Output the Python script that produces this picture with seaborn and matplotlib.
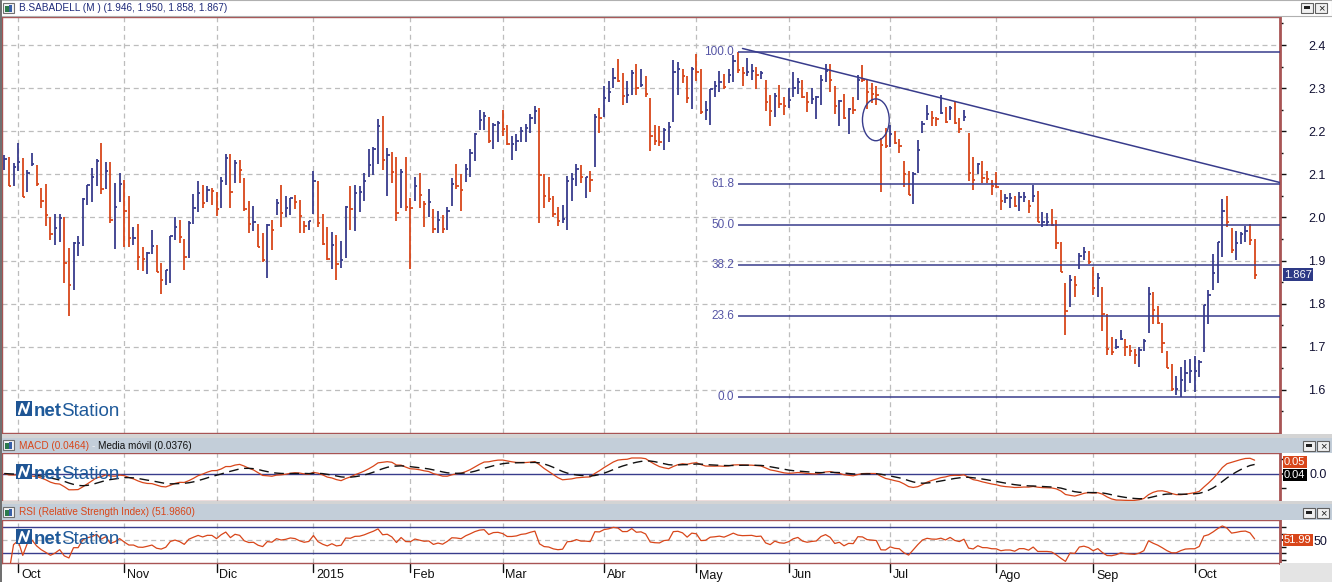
import numpy as np
import pandas as pd
import matplotlib
matplotlib.use("Agg")
import matplotlib.pyplot as plt
import seaborn as sns
from matplotlib.patches import Rectangle, Ellipse

# daily bars B.SABADELL (high, low, close)
highs = [2.145, 2.141, 2.127, 2.172, 2.139, 2.110, 2.150, 2.122, 2.069, 2.078,
         2.002, 2.008, 2.008, 2.001, 1.930, 1.944, 1.957, 2.045, 2.076, 2.115,
         2.136, 2.173, 2.129, 2.129, 2.081, 2.103, 2.088, 2.050, 1.978, 1.985,
         1.932, 1.919, 1.971, 1.937, 1.895, 1.879, 1.957, 2.001, 1.995, 1.951,
         1.992, 2.055, 2.084, 2.076, 2.072, 2.069, 2.058, 2.095, 2.148, 2.148,
         2.134, 2.134, 2.092, 2.039, 2.027, 1.985, 1.964, 1.985, 1.995, 2.043,
         2.076, 2.050, 2.046, 2.053, 2.041, 1.992, 1.992, 2.108, 2.085, 2.008,
         1.978, 1.967, 1.959, 1.946, 2.027, 2.073, 2.076, 2.073, 2.103, 2.159,
         2.164, 2.229, 2.235, 2.162, 2.152, 2.141, 2.113, 2.141, 2.046, 2.094,
         2.103, 2.039, 2.067, 2.020, 2.015, 2.006, 2.024, 2.092, 2.123, 2.101,
         2.124, 2.159, 2.196, 2.249, 2.245, 2.233, 2.218, 2.224, 2.249, 2.215,
         2.189, 2.194, 2.210, 2.217, 2.240, 2.259, 2.254, 2.100, 2.094, 2.050,
         2.024, 2.028, 2.096, 2.103, 2.124, 2.122, 2.095, 2.108, 2.239, 2.255,
         2.304, 2.316, 2.347, 2.368, 2.336, 2.317, 2.342, 2.357, 2.344, 2.328,
         2.277, 2.215, 2.212, 2.207, 2.222, 2.365, 2.361, 2.345, 2.328, 2.348,
         2.380, 2.345, 2.269, 2.298, 2.317, 2.340, 2.333, 2.345, 2.378, 2.384,
         2.350, 2.371, 2.357, 2.349, 2.340, 2.318, 2.284, 2.288, 2.307, 2.280,
         2.300, 2.337, 2.323, 2.319, 2.291, 2.300, 2.282, 2.331, 2.357, 2.357,
         2.306, 2.273, 2.287, 2.254, 2.280, 2.331, 2.353, 2.319, 2.312, 2.306,
         2.184, 2.207, 2.215, 2.201, 2.182, 2.131, 2.108, 2.105, 2.180, 2.224,
         2.261, 2.247, 2.234, 2.284, 2.257, 2.259, 2.269, 2.231, 2.249, 2.195,
         2.141, 2.126, 2.131, 2.108, 2.087, 2.105, 2.064, 2.055, 2.057, 2.050,
         2.059, 2.060, 2.041, 2.076, 2.062, 2.013, 2.011, 2.020, 1.994, 1.944,
         1.849, 1.866, 1.865, 1.918, 1.932, 1.923, 1.886, 1.870, 1.838, 1.776,
         1.722, 1.719, 1.740, 1.719, 1.703, 1.696, 1.700, 1.719, 1.838, 1.826,
         1.795, 1.756, 1.691, 1.661, 1.632, 1.654, 1.670, 1.672, 1.679, 1.670,
         1.798, 1.831, 1.916, 1.944, 2.042, 2.049, 1.975, 1.969, 1.967, 1.980,
         1.984, 1.950]
lows = [2.109, 2.074, 2.074, 2.107, 2.047, 2.060, 2.120, 2.072, 2.021, 1.981,
        1.947, 1.935, 1.944, 1.849, 1.771, 1.831, 1.910, 1.933, 2.029, 2.037,
        2.074, 2.054, 2.067, 1.987, 1.926, 2.036, 1.931, 1.931, 1.935, 1.877,
        1.875, 1.868, 1.916, 1.873, 1.822, 1.844, 1.849, 1.948, 1.940, 1.877,
        1.905, 1.984, 2.012, 2.021, 2.037, 2.030, 2.004, 2.022, 2.076, 2.021,
        2.079, 2.080, 2.014, 1.964, 1.968, 1.931, 1.896, 1.859, 1.924, 2.005,
        1.977, 2.000, 2.005, 2.019, 1.963, 1.965, 1.970, 2.009, 1.978, 1.937,
        1.902, 1.880, 1.856, 1.882, 1.907, 1.972, 1.968, 2.012, 2.039, 2.095,
        2.098, 2.125, 2.111, 2.049, 2.079, 1.992, 2.021, 2.016, 1.880, 2.039,
        2.021, 1.979, 2.000, 1.963, 1.963, 1.963, 1.970, 2.027, 2.065, 2.016,
        2.083, 2.093, 2.132, 2.202, 2.202, 2.173, 2.158, 2.175, 2.190, 2.167,
        2.134, 2.155, 2.174, 2.176, 2.197, 2.216, 1.986, 2.021, 2.037, 2.002,
        1.980, 1.987, 1.972, 2.039, 2.074, 2.081, 2.044, 2.058, 2.117, 2.195,
        2.234, 2.267, 2.301, 2.314, 2.262, 2.265, 2.285, 2.283, 2.302, 2.280,
        2.155, 2.167, 2.165, 2.156, 2.175, 2.222, 2.284, 2.313, 2.266, 2.252,
        2.317, 2.239, 2.226, 2.215, 2.280, 2.290, 2.299, 2.311, 2.315, 2.336,
        2.306, 2.327, 2.319, 2.298, 2.321, 2.247, 2.212, 2.233, 2.253, 2.238,
        2.254, 2.280, 2.286, 2.276, 2.245, 2.263, 2.229, 2.262, 2.315, 2.291,
        2.241, 2.212, 2.229, 2.194, 2.240, 2.273, 2.315, 2.252, 2.266, 2.261,
        2.059, 2.162, 2.163, 2.171, 2.150, 2.071, 2.051, 2.032, 2.104, 2.195,
        2.226, 2.211, 2.212, 2.241, 2.220, 2.226, 2.217, 2.197, 2.224, 2.085,
        2.064, 2.101, 2.080, 2.080, 2.052, 2.068, 2.018, 2.033, 2.021, 2.025,
        2.014, 2.037, 2.010, 2.037, 1.990, 1.979, 1.980, 1.980, 1.926, 1.873,
        1.727, 1.792, 1.815, 1.880, 1.902, 1.891, 1.821, 1.815, 1.737, 1.682,
        1.682, 1.694, 1.715, 1.679, 1.678, 1.661, 1.653, 1.690, 1.731, 1.753,
        1.752, 1.685, 1.651, 1.597, 1.587, 1.583, 1.595, 1.616, 1.595, 1.630,
        1.687, 1.753, 1.831, 1.848, 1.908, 1.979, 1.917, 1.901, 1.938, 1.943,
        1.936, 1.858]
closes = [2.135, 2.074, 2.117, 2.128, 2.047, 2.103, 2.123, 2.078, 2.039, 2.005,
          1.961, 1.975, 1.998, 1.894, 1.843, 1.941, 1.941, 2.042, 2.075, 2.093,
          2.132, 2.066, 2.107, 1.995, 2.024, 2.078, 2.015, 1.953, 1.953, 1.908,
          1.904, 1.918, 1.934, 1.873, 1.855, 1.877, 1.957, 1.978, 1.954, 1.908,
          1.987, 2.022, 2.056, 2.034, 2.063, 2.062, 2.019, 2.085, 2.139, 2.059,
          2.127, 2.111, 2.019, 1.985, 1.989, 1.931, 1.902, 1.982, 1.971, 2.033,
          2.010, 2.022, 2.045, 2.036, 2.003, 1.980, 1.991, 2.084, 1.987, 1.938,
          1.903, 1.936, 1.892, 1.902, 2.024, 2.019, 2.056, 2.059, 2.084, 2.121,
          2.158, 2.212, 2.133, 2.144, 2.105, 2.010, 2.105, 2.025, 2.022, 2.073,
          2.052, 2.032, 2.037, 1.973, 1.994, 1.973, 2.015, 2.077, 2.073, 2.063,
          2.112, 2.149, 2.193, 2.225, 2.235, 2.177, 2.214, 2.219, 2.205, 2.170,
          2.170, 2.178, 2.200, 2.208, 2.230, 2.247, 2.098, 2.050, 2.042, 2.008,
          1.992, 1.997, 2.084, 2.089, 2.113, 2.093, 2.093, 2.087, 2.232, 2.230,
          2.276, 2.292, 2.323, 2.317, 2.282, 2.283, 2.336, 2.300, 2.307, 2.286,
          2.188, 2.178, 2.175, 2.203, 2.209, 2.337, 2.344, 2.327, 2.277, 2.345,
          2.337, 2.244, 2.249, 2.297, 2.304, 2.314, 2.302, 2.330, 2.363, 2.342,
          2.336, 2.338, 2.340, 2.330, 2.334, 2.268, 2.247, 2.281, 2.263, 2.258,
          2.272, 2.300, 2.314, 2.280, 2.268, 2.275, 2.279, 2.320, 2.340, 2.318,
          2.259, 2.270, 2.230, 2.252, 2.249, 2.320, 2.318, 2.292, 2.287, 2.283,
          2.168, 2.165, 2.193, 2.172, 2.165, 2.100, 2.053, 2.100, 2.156, 2.216,
          2.241, 2.231, 2.229, 2.242, 2.222, 2.253, 2.219, 2.205, 2.232, 2.103,
          2.087, 2.124, 2.091, 2.089, 2.072, 2.070, 2.039, 2.045, 2.045, 2.027,
          2.047, 2.047, 2.027, 2.050, 1.990, 1.990, 1.990, 1.983, 1.941, 1.873,
          1.782, 1.855, 1.843, 1.910, 1.920, 1.896, 1.837, 1.860, 1.777, 1.695,
          1.688, 1.699, 1.718, 1.699, 1.690, 1.682, 1.693, 1.714, 1.822, 1.786,
          1.755, 1.709, 1.651, 1.601, 1.601, 1.624, 1.640, 1.643, 1.643, 1.665,
          1.797, 1.819, 1.871, 1.944, 2.015, 1.990, 1.925, 1.941, 1.962, 1.969,
          1.948, 1.867]

month_labels = ["Oct", "Nov", "Dic", "2015", "Feb", "Mar", "Abr", "May",
                "Jun", "Jul", "Ago", "Sep", "Oct"]
month_starts = [3, 26, 46, 67, 88, 108, 130, 150, 170, 192, 215, 236, 258]
price_ticks = [1.6, 1.7, 1.8, 1.9, 2.0, 2.1, 2.2, 2.3, 2.4]
fib_levels = [0.0, 23.6, 38.2, 50.0, 61.8, 100.0]
trend_x = [160, 276.5]
trend_y = [2.392, 2.081]
circle_xy = (188.9, 2.2265)
circle_w, circle_h = 5.8, 0.097
title_txt = "B.SABADELL (M ) (1.946, 1.950, 1.858, 1.867)"
last_close_txt = "1.867"
macd_txt, signal_txt, rsi_txt = "0.05", "0.04", "51.99"

BLUE = "#383c8c"
RED = "#d8461a"
GRID = "#bdbdbd"
BORDER = "#a85454"
TXT = "#1e2a7a"

df = pd.DataFrame({"high": highs, "low": lows, "close": closes})
df["x"] = np.arange(len(df))
df["up"] = df["close"].diff().fillna(0) >= 0
df["color"] = np.where(df["up"], BLUE, RED)

# indicators
ema12 = df["close"].ewm(span=12, adjust=False).mean()
ema26 = df["close"].ewm(span=26, adjust=False).mean()
df["macd"] = ema12 - ema26
df["signal"] = df["macd"].ewm(span=9, adjust=False).mean()
delta = df["close"].diff().fillna(0)
gain = delta.clip(lower=0).ewm(alpha=1 / 14, adjust=False).mean()
loss = (-delta.clip(upper=0)).ewm(alpha=1 / 14, adjust=False).mean()
df["rsi"] = 100 - 100 / (1 + gain / loss.replace(0, np.nan))
df["rsi"] = df["rsi"].bfill()

sns.set_theme(style="white")
plt.rcParams["font.family"] = ["Liberation Sans", "DejaVu Sans"]

W, H = 1332, 582
fig = plt.figure(figsize=(W / 100, H / 100), dpi=100)
fig.patch.set_facecolor("white")


def box(x0, y0, x1, y1):
    return [x0 / W, 1 - y1 / H, (x1 - x0) / W, (y1 - y0) / H]


def fx(px):
    return px / W


def fy(py):
    return 1 - py / H


def frect(x0, y0, x1, y1, fc, ec="none", lw=0, z=0):
    fig.patches.append(Rectangle((fx(x0), fy(y1)), (x1 - x0) / W, (y1 - y0) / H,
                                 transform=fig.transFigure, facecolor=fc,
                                 edgecolor=ec, linewidth=lw, zorder=z))


# background pieces: header bars, separators
frect(0, 0, W, 16, "#ffffff", "#b0b0b0", 0.8)
frect(0, 434, W, 438, "#d4d4d4")
frect(0, 438, W, 453, "#c3ced9")
frect(0, 501, W, 504, "#d4d4d4")
frect(0, 504, W, 520, "#c3ced9")
frect(1280, 563, W, H, "#e4e4e4")
frect(0, 0, 2, H, "#707070")


def icon(x, y, z=5):
    frect(x, y, x + 11, y + 10, "#f4f4f4", "#707070", 0.8, z)
    frect(x + 2, y + 3, x + 6, y + 9, "#2b7a4b", z=z + 1)
    frect(x + 6, y + 2, x + 9, y + 9, "#3860a8", z=z + 1)


def buttons(x, y):
    frect(x, y, x + 12, y + 10, "#f0f0f0", "#606060", 0.8, 5)
    frect(x + 3, y + 3, x + 9, y + 6, "#202020", z=6)
    frect(x + 14, y, x + 26, y + 10, "#f0f0f0", "#606060", 0.8, 5)
    fig.text(fx(x + 20), fy(y + 5), "×", fontsize=8, ha="center", va="center",
             color="#202020", zorder=7)


renderer = fig.canvas.get_renderer()

icon(3, 3)
fig.text(fx(19), fy(8), title_txt, fontsize=7.2, color=TXT, va="center")
buttons(1301, 3)
icon(3, 440)
t = fig.text(fx(19), fy(446), "MACD (0.0464)", fontsize=7.2, color=RED, va="center")
x_end = t.get_window_extent(renderer).x1
t = fig.text((x_end + 3) / W, fy(446), "-", fontsize=7.2, color="#f4f4f4", va="center")
x_end = t.get_window_extent(renderer).x1
fig.text((x_end + 3) / W, fy(446), "Media móvil (0.0376)", fontsize=7.2,
         color="#111111", va="center")
buttons(1303, 441)
icon(3, 507)
fig.text(fx(19), fy(512), "RSI (Relative Strength Index) (51.9860)", fontsize=7.2,
         color=RED, va="center")
buttons(1303, 508)


def logo(x, y):
    frect(x, y, x + 16, y + 15, "#1f5594", z=2)
    fig.lines.append(plt.Line2D([fx(x + 3), fx(x + 6), fx(x + 10), fx(x + 13)],
                                [fy(y + 13), fy(y + 3), fy(y + 12), fy(y + 2)],
                                transform=fig.transFigure, color="white", lw=1.6, zorder=3))
    a = fig.text(fx(x + 18), fy(y + 15), "net", fontsize=13.5, fontweight="bold",
                 color="#1f5a9a", va="baseline", zorder=2)
    bb = a.get_window_extent(renderer)
    fig.text((bb.x1 - 1) / W, fy(y + 15), "Station", fontsize=13.5, color="#1f5a9a",
             va="baseline", zorder=2)


def side_label(txt, y_px, fc, fs=8):
    fig.text(fx(1284), fy(y_px), txt, fontsize=fs, color="white", va="center",
             ha="left", zorder=8,
             bbox=dict(boxstyle="square,pad=0.12", fc=fc, ec="none"))


# ---------- price panel ----------
ax = fig.add_axes(box(2, 17, 1280, 433))
xlim = (-0.5, 276.5)
ax.set_xlim(xlim)
ax.set_ylim(1.50, 2.465)
ax.vlines(df["x"], df["low"], df["high"], colors=df["color"], lw=1.3, zorder=3)
ax.hlines(df["close"], df["x"], df["x"] + 0.5, colors=df["color"], lw=1.3, zorder=3)

hi, lo = df["high"].max(), df["low"].min()
i_hi = int(df["high"].idxmax())
for lev in fib_levels:
    yv = lo + (hi - lo) * lev / 100
    ax.hlines(yv, i_hi, xlim[1], colors=BLUE, lw=1.1, zorder=4)
    ax.text(i_hi - 0.8, yv, f"{lev:.1f}", fontsize=8.5, color="#5555a5",
            ha="right", va="center")
sns.lineplot(x=trend_x, y=trend_y, ax=ax, color=BLUE, lw=1.1, zorder=4)
ax.add_patch(Ellipse(circle_xy, circle_w, circle_h, fill=False, ec=BLUE, lw=1.0, zorder=4))

ax.set_yticks(price_ticks)
ax.set_yticks(np.arange(1.55, 2.46, 0.1), minor=True)
ax.set_xticks(month_starts)
ax.set_xticklabels([])
ax.grid(True, which="major", ls=(0, (4, 3)), color=GRID, lw=0.9)
ax.yaxis.tick_right()
ax.tick_params(axis="y", which="major", right=True, length=4.5, width=1, color="#111111",
               labelsize=9, labelcolor="#111133", pad=16)
ax.tick_params(axis="y", which="minor", right=True, length=2.5, width=1, color="#111111")
ax.tick_params(axis="x", length=0)
y_last = ax.transData.transform((0, df["close"].iloc[-1]))[1]
side_label(last_close_txt, H - y_last, "#2e3a86")

# ---------- MACD panel ----------
axm = fig.add_axes(box(2, 453, 1280, 501))
sns.lineplot(x=df["x"], y=df["macd"], ax=axm, color=RED, lw=0.9, zorder=3)
sns.lineplot(x=df["x"], y=df["signal"], ax=axm, color="#111111", lw=1.0, zorder=3)
axm.lines[-1].set_dashes([7, 4])
axm.axhline(0, color=BLUE, lw=1.0, zorder=2)
axm.set_xlim(xlim)
axm.set_ylim(-0.095, 0.071)
axm.set_xticks(month_starts)
axm.set_xticklabels([])
axm.set_yticks([0.0])
axm.set_yticks([-0.05, 0.05], minor=True)
axm.grid(True, axis="x", ls=(0, (4, 3)), color=GRID, lw=0.9)
axm.yaxis.tick_right()
axm.set_yticklabels(["0.0"])
axm.tick_params(axis="y", which="both", right=True, length=4, color="#111111",
                labelsize=9, labelcolor="#111133", pad=17)
axm.tick_params(axis="x", length=0)
axm.set_xlabel("")
axm.set_ylabel("")
side_label(macd_txt, 462, RED)
side_label(signal_txt, 475, "black")

# ---------- RSI panel ----------
axr = fig.add_axes(box(2, 520, 1280, 563))
sns.lineplot(x=df["x"], y=df["rsi"], ax=axr, color=RED, lw=0.9, zorder=3)
axr.axhline(70, color=BLUE, lw=1.0)
axr.axhline(30, color=BLUE, lw=1.0)
axr.axhline(50, color=GRID, lw=0.9, ls=(0, (4, 3)))
axr.set_xlim(xlim)
axr.set_ylim(15, 81)
axr.set_xticks(month_starts)
axr.set_xticklabels([])
axr.set_yticks([50])
axr.set_yticks([20, 30, 40, 60, 70], minor=True)
axr.grid(True, axis="x", ls=(0, (4, 3)), color=GRID, lw=0.9)
axr.yaxis.tick_right()
axr.tick_params(axis="y", which="both", right=True, length=4, color="#111111",
                labelsize=9, labelcolor="#111133", pad=20)
axr.tick_params(axis="x", length=0)
axr.set_xlabel("")
axr.set_ylabel("")
side_label(rsi_txt, 540, RED)

# month labels under the RSI panel
for pos, lab in zip(month_starts, month_labels):
    axr.plot([pos, pos], [0, -0.2], transform=axr.get_xaxis_transform(),
             color="#111111", lw=1.0, clip_on=False)
    axr.annotate(lab, xy=(pos, 0), xycoords=axr.get_xaxis_transform(),
                 xytext=(2, -9), textcoords="offset points", fontsize=9,
                 color="#111111", ha="left", va="center", annotation_clip=False)

for a in (ax, axm, axr):
    for s in a.spines.values():
        s.set_color(BORDER)
        s.set_linewidth(1.0)
    a.spines["right"].set_linewidth(2.0)
    a.set_facecolor("white")

logo(16, 401)
logo(16, 464)
logo(16, 529)

fig.savefig("out.png", dpi=100)
